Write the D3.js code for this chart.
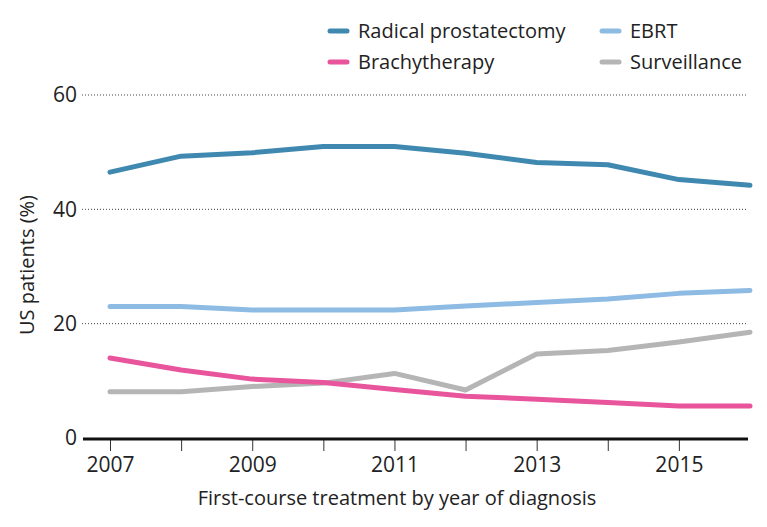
<!DOCTYPE html>
<html>
<head>
<meta charset="utf-8">
<script src="https://cdn.jsdelivr.net/npm/d3@7"></script>
<style>
  body { margin: 0; background: #fff; }
  text { font-family: "Open Sans", Roboto, sans-serif; fill: #222; }
</style>
</head>
<body>
<div id="app"></div>
<script>
var years = [2007, 2008, 2009, 2010, 2011, 2012, 2013, 2014, 2015, 2016];
var radical = [46.5, 49.3, 49.9, 51.0, 51.0, 49.8, 48.2, 47.8, 45.2, 44.2];
var ebrt = [23.0, 23.0, 22.4, 22.4, 22.4, 23.1, 23.7, 24.3, 25.3, 25.8];
var brachy = [14.0, 11.9, 10.3, 9.7, 8.5, 7.3, 6.8, 6.2, 5.6, 5.6];
var surveillance = [8.1, 8.1, 9.0, 9.6, 11.3, 8.4, 14.7, 15.3, 16.8, 18.5];
var seriesNames = ['Radical prostatectomy', 'EBRT', 'Brachytherapy', 'Surveillance'];
var yTicks = [0, 20, 40, 60];
var xTickLabels = [2007, 2009, 2011, 2013, 2015];
var xMinorTicks = [2007, 2008, 2009, 2010, 2011, 2012, 2013, 2014, 2015];

var colors = {
    'Radical prostatectomy': '#3f88b0',
    'EBRT': '#8dbbe3',
    'Brachytherapy': '#e8559d',
    'Surveillance': '#b5b5b5'
};
var values = {
    'Radical prostatectomy': radical,
    'EBRT': ebrt,
    'Brachytherapy': brachy,
    'Surveillance': surveillance
};
// draw order: bottom ones first
var drawOrder = ['Surveillance', 'Brachytherapy', 'EBRT', 'Radical prostatectomy'];

var width = 767, height = 527;
var svg = d3.select('#app').append('svg')
    .attr('width', width)
    .attr('height', height);

var x = d3.scaleLinear().domain([2007, 2016]).range([110, 750]);
var y = d3.scaleLinear().domain([0, 60]).range([438, 95]);

// gridlines
svg.append('g')
    .selectAll('line')
    .data(yTicks.filter(function(d) { return d > 0; }))
    .enter().append('line')
    .attr('x1', 82)
    .attr('x2', 748)
    .attr('y1', function(d) { return y(d); })
    .attr('y2', function(d) { return y(d); })
    .attr('stroke', '#444')
    .attr('stroke-width', 1)
    .attr('stroke-dasharray', '1,2');

// y labels
svg.append('g')
    .selectAll('text')
    .data(yTicks)
    .enter().append('text')
    .attr('x', 77)
    .attr('y', function(d) { return y(d); })
    .attr('dy', '0.35em')
    .attr('text-anchor', 'end')
    .style('font-size', '21px')
    .text(function(d) { return d; });

// x axis
var xAxis = d3.axisBottom(x)
    .tickValues(xMinorTicks)
    .tickSize(12)
    .tickFormat(function(d) { return xTickLabels.indexOf(d) >= 0 ? d : ''; });

var gx = svg.append('g')
    .attr('transform', 'translate(0,' + 439 + ')')
    .call(xAxis);
gx.select('.domain').remove();
gx.selectAll('.tick line').attr('stroke', '#333').attr('stroke-width', 1);
gx.selectAll('.tick text')
    .attr('y', 18)
    .style('font-size', '21px')
    .style('font-family', '"Open Sans", sans-serif')
    .attr('fill', '#222');

svg.append('line')
    .attr('x1', 83)
    .attr('x2', 748)
    .attr('y1', 439)
    .attr('y2', 439)
    .attr('stroke', '#111')
    .attr('stroke-width', 3);

// lines
var line = d3.line()
    .x(function(d, i) { return x(years[i]); })
    .y(function(d) { return y(d); });

svg.append('g')
    .selectAll('path')
    .data(drawOrder)
    .enter().append('path')
    .attr('d', function(name) { return line(values[name]); })
    .attr('fill', 'none')
    .attr('stroke', function(name) { return colors[name]; })
    .attr('stroke-width', 5)
    .attr('stroke-linejoin', 'round')
    .attr('stroke-linecap', 'round');

// axis titles
svg.append('text')
    .attr('transform', 'translate(34,265) rotate(-90)')
    .attr('text-anchor', 'middle')
    .style('font-size', '20px')
    .text('US patients (%)');

svg.append('text')
    .attr('x', 397)
    .attr('y', 505)
    .attr('text-anchor', 'middle')
    .style('font-size', '20px')
    .text('First-course treatment by year of diagnosis');

// legend
var legendPos = [
    { x: 330, y: 31 },
    { x: 602, y: 31 },
    { x: 330, y: 62 },
    { x: 602, y: 62 }
];
var legend = svg.append('g')
    .selectAll('g')
    .data(seriesNames)
    .enter().append('g')
    .attr('transform', function(d, i) {
        return 'translate(' + legendPos[i].x + ',' + legendPos[i].y + ')';
    });

legend.append('line')
    .attr('x1', 0)
    .attr('x2', 17)
    .attr('stroke', function(d) { return colors[d]; })
    .attr('stroke-width', 5)
    .attr('stroke-linecap', 'round');

legend.append('text')
    .attr('x', 28)
    .attr('dy', '0.35em')
    .style('font-size', '20px')
    .text(function(d) { return d; });
</script>
</body>
</html>
